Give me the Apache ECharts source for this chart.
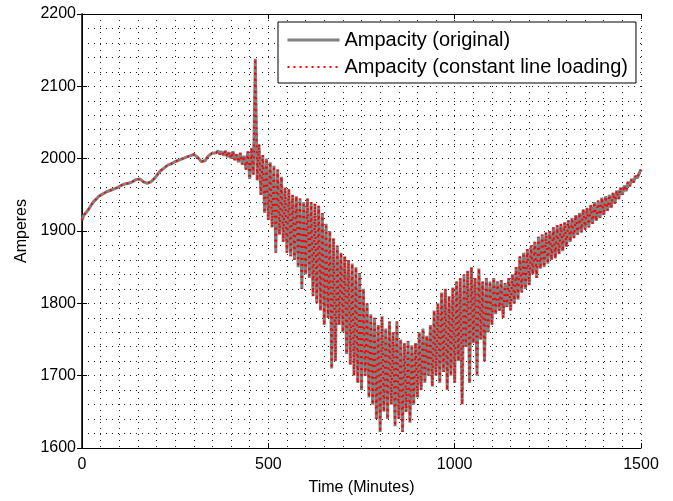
<!DOCTYPE html>
<html>
<head>
<meta charset="utf-8">
<script src="https://cdn.jsdelivr.net/npm/echarts@6/dist/echarts.min.js"></script>
<style>
html,body{margin:0;padding:0;background:#fff;}
#chart{width:673px;height:501px;}
</style>
</head>
<body>
<div id="chart"></div>
<script>
// Sampling step in minutes
const stepMinutes = 5;

// Ampacity (original), one value every 5 minutes from 0 to 1500
const ampacityOriginal = [
  // 0 - 440 (smooth)
  1915,1922,1925,1928,1932,1936,1940,1942,1945,1948,
  1950,1951,1952,1954,1955,1956,1957,1958,1959,1960,
  1962,1963,1964,1965,1966,1966,1967,1968,1969,1971,
  1972,1972,1970,1968,1967,1966,1967,1968,1970,1973,
  1976,1980,1983,1985,1987,1989,1991,1992,1993,1995,
  1996,1997,1998,1999,2000,2001,2002,2003,2004,2005,
  2006,2004,2002,1999,1996,1994,1997,2001,2004,2006,
  2008,2009,2008,2011,2006,2010,2004,2011,2002,2009,
  2000,2010,1998,2006,1995,2008,1992,2004,1985,
  // 445 - 500
  2010,1972,2015,1978,2138,1970,2020,1950,2005,1925,2000,1915,
  // 505 - 600
  1995,1905,1990,1870,1985,1895,1975,1885,1960,1870,
  1958,1865,1950,1860,1948,1850,1945,1820,1940,1840,
  // 605 - 700
  1945,1835,1940,1810,1938,1800,1935,1790,1925,1770,
  1910,1780,1900,1710,1890,1720,1880,1770,1870,1760,
  // 705 - 800
  1865,1730,1860,1715,1855,1700,1850,1690,1842,1680,
  1820,1700,1800,1670,1785,1660,1780,1640,1770,1622,
  // 805 - 900
  1782,1650,1765,1640,1775,1660,1760,1630,1775,1640,
  1750,1622,1745,1650,1748,1635,1742,1660,1745,1670,
  // 905 - 1000
  1760,1680,1765,1690,1755,1700,1770,1685,1790,1700,
  1800,1690,1815,1705,1820,1680,1810,1700,1822,1690,
  // 1005 - 1100
  1830,1720,1835,1660,1840,1740,1845,1690,1850,1745,
  1835,1700,1848,1750,1830,1720,1835,1760,1830,1770,
  // 1105 - 1200
  1835,1785,1830,1790,1832,1780,1828,1795,1835,1790,
  1840,1800,1850,1805,1865,1815,1870,1820,1875,1825,
  // 1205 - 1300
  1880,1840,1885,1835,1892,1848,1895,1850,1898,1855,
  1900,1860,1905,1862,1908,1868,1910,1872,1912,1878,
  // 1305 - 1400
  1915,1885,1918,1890,1922,1895,1925,1898,1930,1902,
  1932,1905,1936,1910,1940,1914,1942,1918,1946,1922,
  // 1405 - 1500
  1948,1928,1950,1932,1953,1938,1956,1944,1960,1950,
  1963,1955,1968,1962,1972,1967,1976,1973,1980,1985
];

// Ampacity (constant line loading): visually identical to the original
const ampacityConstant = ampacityOriginal.slice();

const xTicks = [0, 500, 1000, 1500];
const yTicks = [1600, 1700, 1800, 1900, 2000, 2100, 2200];

const seriesNames = ['Ampacity (original)', 'Ampacity (constant line loading)'];

function pairs(vals){ return vals.map((v,i)=>[i*stepMinutes, v]); }

const font = 'Liberation Sans, Arial, sans-serif';
const dotted = [1, 5];

const chart = echarts.init(document.getElementById('chart'), null, {renderer:'canvas'});
const gridLine = {show:true, lineStyle:{color:'#222', width:1, type:dotted}};
const plain = v => String(v);
chart.setOption({
  animation:false,
  backgroundColor:'#fff',
  grid:{left:82, right:32, top:14, bottom:49, containLabel:false},
  legend:{
    orient:'vertical', left:278, top:22,
    itemWidth:52, itemHeight:14, itemGap:7,
    padding:[8,8,6,8],
    borderColor:'#000', borderWidth:1, backgroundColor:'#fff',
    itemStyle:{opacity:0},
    textStyle:{fontFamily:font, fontSize:20, color:'#000'},
    data:[
      {name:seriesNames[0], lineStyle:{width:3, color:'#808080'}},
      {name:seriesNames[1], lineStyle:{width:2, color:'#ff0000', type:[2,4]}}
    ]
  },
  xAxis:[{
    type:'value', min:xTicks[0], max:xTicks[xTicks.length-1], interval:500,
    name:'Time (Minutes)', nameLocation:'middle', nameGap:32,
    nameTextStyle:{fontFamily:font, fontSize:16, color:'#000'},
    axisLine:{show:true, lineStyle:{color:'#000', width:1}},
    axisTick:{show:true, inside:true, length:5, lineStyle:{color:'#000'}},
    axisLabel:{fontFamily:font, fontSize:16, color:'#000', margin:9, formatter:plain},
    splitLine:gridLine,
    minorTick:{show:false, splitNumber:10},
    minorSplitLine:gridLine
  },{
    type:'value', position:'top', min:xTicks[0], max:xTicks[xTicks.length-1], interval:500,
    axisLine:{show:true, lineStyle:{color:'#000', width:1}},
    axisTick:{show:true, inside:true, length:5, lineStyle:{color:'#000'}},
    axisLabel:{show:false}, splitLine:{show:false}
  }],
  yAxis:[{
    type:'value', min:yTicks[0], max:yTicks[yTicks.length-1], interval:100,
    name:'Amperes', nameLocation:'middle', nameGap:48,
    nameTextStyle:{fontFamily:font, fontSize:16, color:'#000'},
    axisLine:{show:true, lineStyle:{color:'#000', width:1.5}},
    axisTick:{show:true, inside:true, length:5, lineStyle:{color:'#000'}},
    axisLabel:{fontFamily:font, fontSize:16, color:'#000', margin:6, formatter:plain},
    splitLine:gridLine,
    minorTick:{show:false, splitNumber:5},
    minorSplitLine:gridLine
  },{
    type:'value', position:'right', min:yTicks[0], max:yTicks[yTicks.length-1], interval:100,
    axisLine:{show:true, lineStyle:{color:'#000', width:1}},
    axisTick:{show:true, inside:true, length:5, lineStyle:{color:'#000'}},
    axisLabel:{show:false}, splitLine:{show:false}
  }],
  series:[{
    name:seriesNames[0], type:'line', xAxisIndex:0, yAxisIndex:0,
    data:pairs(ampacityOriginal), symbol:'none', showSymbol:false,
    lineStyle:{color:'#808080', width:3},
    itemStyle:{color:'#808080'}, z:2
  },{
    name:seriesNames[1], type:'line', xAxisIndex:0, yAxisIndex:0,
    data:pairs(ampacityConstant), symbol:'none', showSymbol:false,
    lineStyle:{color:'#ff0000', width:2, type:[2,4]},
    itemStyle:{color:'#ff0000'}, z:3
  }]
});
</script>
</body>
</html>
